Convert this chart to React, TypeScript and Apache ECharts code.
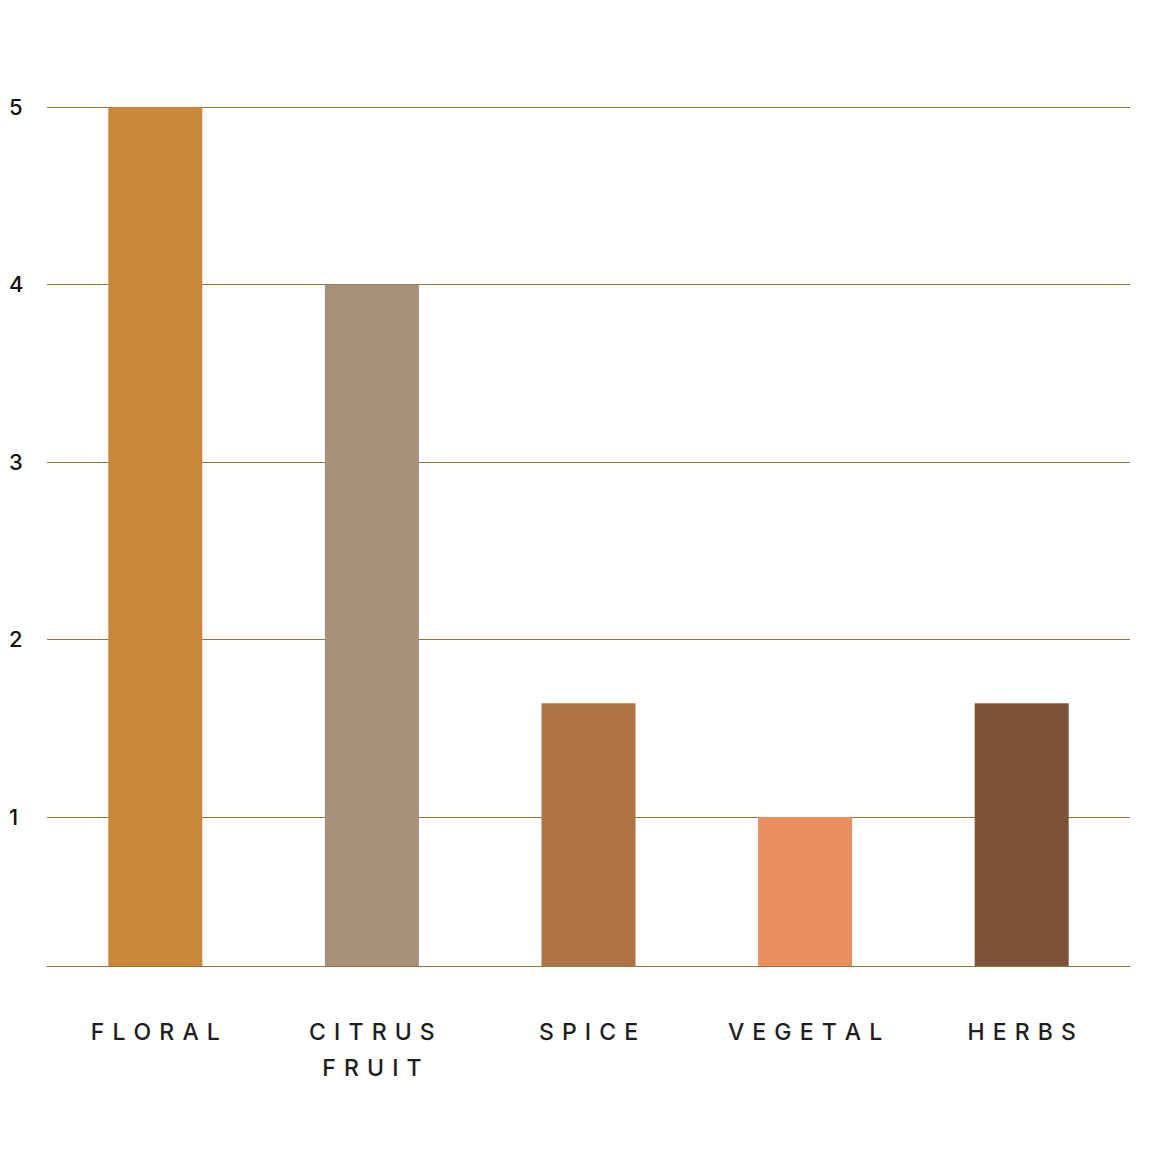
import React, { useEffect, useRef } from "react";
import * as echarts from "echarts";

const categories = ["FLORAL", "CITRUS\nFRUIT", "SPICE", "VEGETAL", "HERBS"];
const values = [5, 4, 1.64, 1, 1.64];
const barColors = ["#C8873B", "#A8907A", "#AD7345", "#E98E5F", "#7D5439"];
const yTicks = [1, 2, 3, 4, 5];
const yMin = 0.16;
const yMax = 5;

const spaced = (s: string) =>
  s
    .split("\n")
    .map((line) => line.split("").join(" \u200A"))
    .join("\n");

export default function App() {
  const ref = useRef<HTMLDivElement>(null);
  useEffect(() => {
    const chart = echarts.init(ref.current!, undefined, { renderer: "svg" });
    const lineColor = "#8A7A35";
    chart.setOption({
      animation: false,
      backgroundColor: "#ffffff",
      grid: { left: 47, right: 30, top: 107, bottom: 194, containLabel: false },
      xAxis: {
        type: "category",
        data: categories,
        axisLine: { show: true, lineStyle: { color: lineColor, width: 1.2 } },
        axisTick: { show: false },
        axisLabel: {
          formatter: (v: string) => spaced(v),
          color: "#1e1e1e",
          fontFamily: "Inter, 'Noto Sans', sans-serif",
          fontSize: 23,
          fontWeight: 500,
          lineHeight: 36,
          margin: 48,
        },
      },
      yAxis: {
        type: "value",
        min: yMin,
        max: yMax,
        axisLine: { show: false },
        axisTick: { show: false, customValues: yTicks },
        splitLine: { show: false },
        axisLabel: {
          customValues: yTicks,
          color: "#111",
          fontFamily: "Inter, 'Noto Sans', sans-serif",
          fontSize: 22,
          fontWeight: 500,
          align: "left",
          margin: 38,
        },
      },
      series: [
        {
          type: "bar",
          barWidth: 94,
          data: values.map((v, i) => ({ value: v, itemStyle: { color: barColors[i] } })),
          z: 2,
          markLine: {
            silent: true,
            symbol: "none",
            label: { show: false },
            lineStyle: { color: lineColor, type: "solid", width: 1.2 },
            data: yTicks.map((t) => ({ yAxis: t })),
            z: 1,
          },
        },
      ],
    });
    return () => chart.dispose();
  }, []);
  return <div ref={ref} style={{ width: 1160, height: 1160, margin: -8 }} />;
}
